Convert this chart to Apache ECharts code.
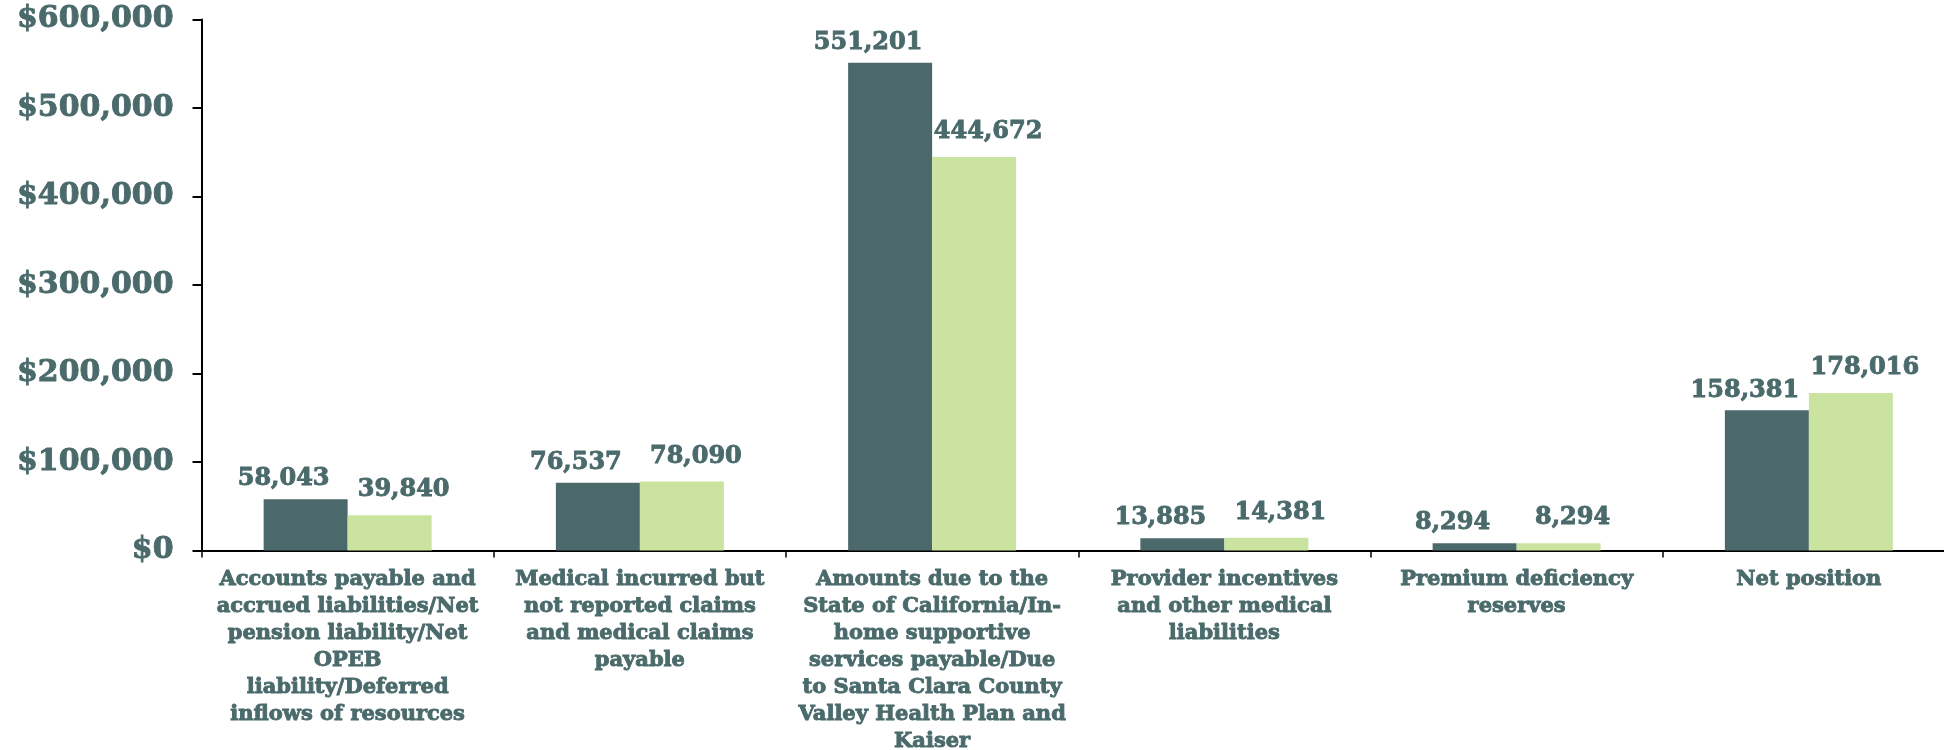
<!DOCTYPE html>
<html>
<head>
<meta charset="utf-8">
<script src="https://cdn.jsdelivr.net/npm/echarts@6/dist/echarts.min.js"></script>
<style>
  html, body { margin: 0; padding: 0; background: #ffffff; }
  #chart { width: 1944px; height: 750px; }
</style>
</head>
<body>
<div id="chart"></div>
<script>
// Liabilities and net position, in thousands of dollars
const categories = [
  'Accounts payable and\naccrued liabilities/Net\npension liability/Net\nOPEB\nliability/Deferred\ninflows of resources',
  'Medical incurred but\nnot reported claims\nand medical claims\npayable',
  'Amounts due to the\nState of California/In-\nhome supportive\nservices payable/Due\nto Santa Clara County\nValley Health Plan and\nKaiser',
  'Provider incentives\nand other medical\nliabilities',
  'Premium deficiency\nreserves',
  'Net position'
];
const currentYear = [58043, 76537, 551201, 13885, 8294, 158381];
const priorYear = [39840, 78090, 444672, 14381, 8294, 178016];
const yTicks = [0, 100000, 200000, 300000, 400000, 500000, 600000];

const TEXT = '#4A6A6B';
const DARK = '#4B696B';
const LIGHT = '#CBE3A0';
const FONT = '"DejaVu Serif", serif';

const fmt = v => v.toLocaleString('en-US');

const chart = echarts.init(document.getElementById('chart'), null, { renderer: 'canvas' });

// heavy serif text: bold face plus a thin outline in the same colour
const heavy = { color: TEXT, fontFamily: FONT, fontWeight: 'bold', textBorderColor: TEXT, textBorderWidth: 0.9 };

function valueLabel(dx, dist) {
  return Object.assign({
    show: true,
    position: 'top',
    distance: dist,
    offset: [dx, 0],
    fontSize: 24,
    formatter: p => fmt(p.value)
  }, heavy);
}

chart.setOption({
  animation: false,
  backgroundColor: '#ffffff',
  grid: {
    left: 201.5, top: 19.5, width: 1753.5, bottom: 199.5,
    containLabel: false,
    outerBoundsMode: 'none'
  },
  xAxis: {
    type: 'category',
    data: categories,
    axisLine: { show: true, lineStyle: { color: '#000', width: 2 } },
    axisTick: { show: true, alignWithLabel: false, length: 7, lineStyle: { color: '#000', width: 1.5 } },
    axisLabel: Object.assign({
      interval: 0,
      margin: 16,
      fontSize: 21,
      lineHeight: 27,
      align: 'center'
    }, heavy),
    splitLine: { show: false }
  },
  yAxis: {
    type: 'value',
    min: yTicks[0],
    max: yTicks[yTicks.length - 1],
    interval: yTicks[1] - yTicks[0],
    axisLine: { show: true, lineStyle: { color: '#000', width: 2 } },
    axisTick: { show: true, length: 9, lineStyle: { color: '#000', width: 2 } },
    axisLabel: Object.assign({
      margin: 28,
      fontSize: 30,
      formatter: v => '$' + fmt(v)
    }, heavy),
    splitLine: { show: false }
  },
  series: [
    {
      name: 'Current year',
      type: 'bar',
      data: currentYear,
      barWidth: 84,
      barGap: '0%',
      itemStyle: { color: DARK },
      label: valueLabel(-22, 8)
    },
    {
      name: 'Prior year',
      type: 'bar',
      data: priorYear,
      barWidth: 84,
      barGap: '0%',
      itemStyle: { color: LIGHT },
      label: valueLabel(14, 13)
    }
  ]
});
</script>
</body>
</html>
